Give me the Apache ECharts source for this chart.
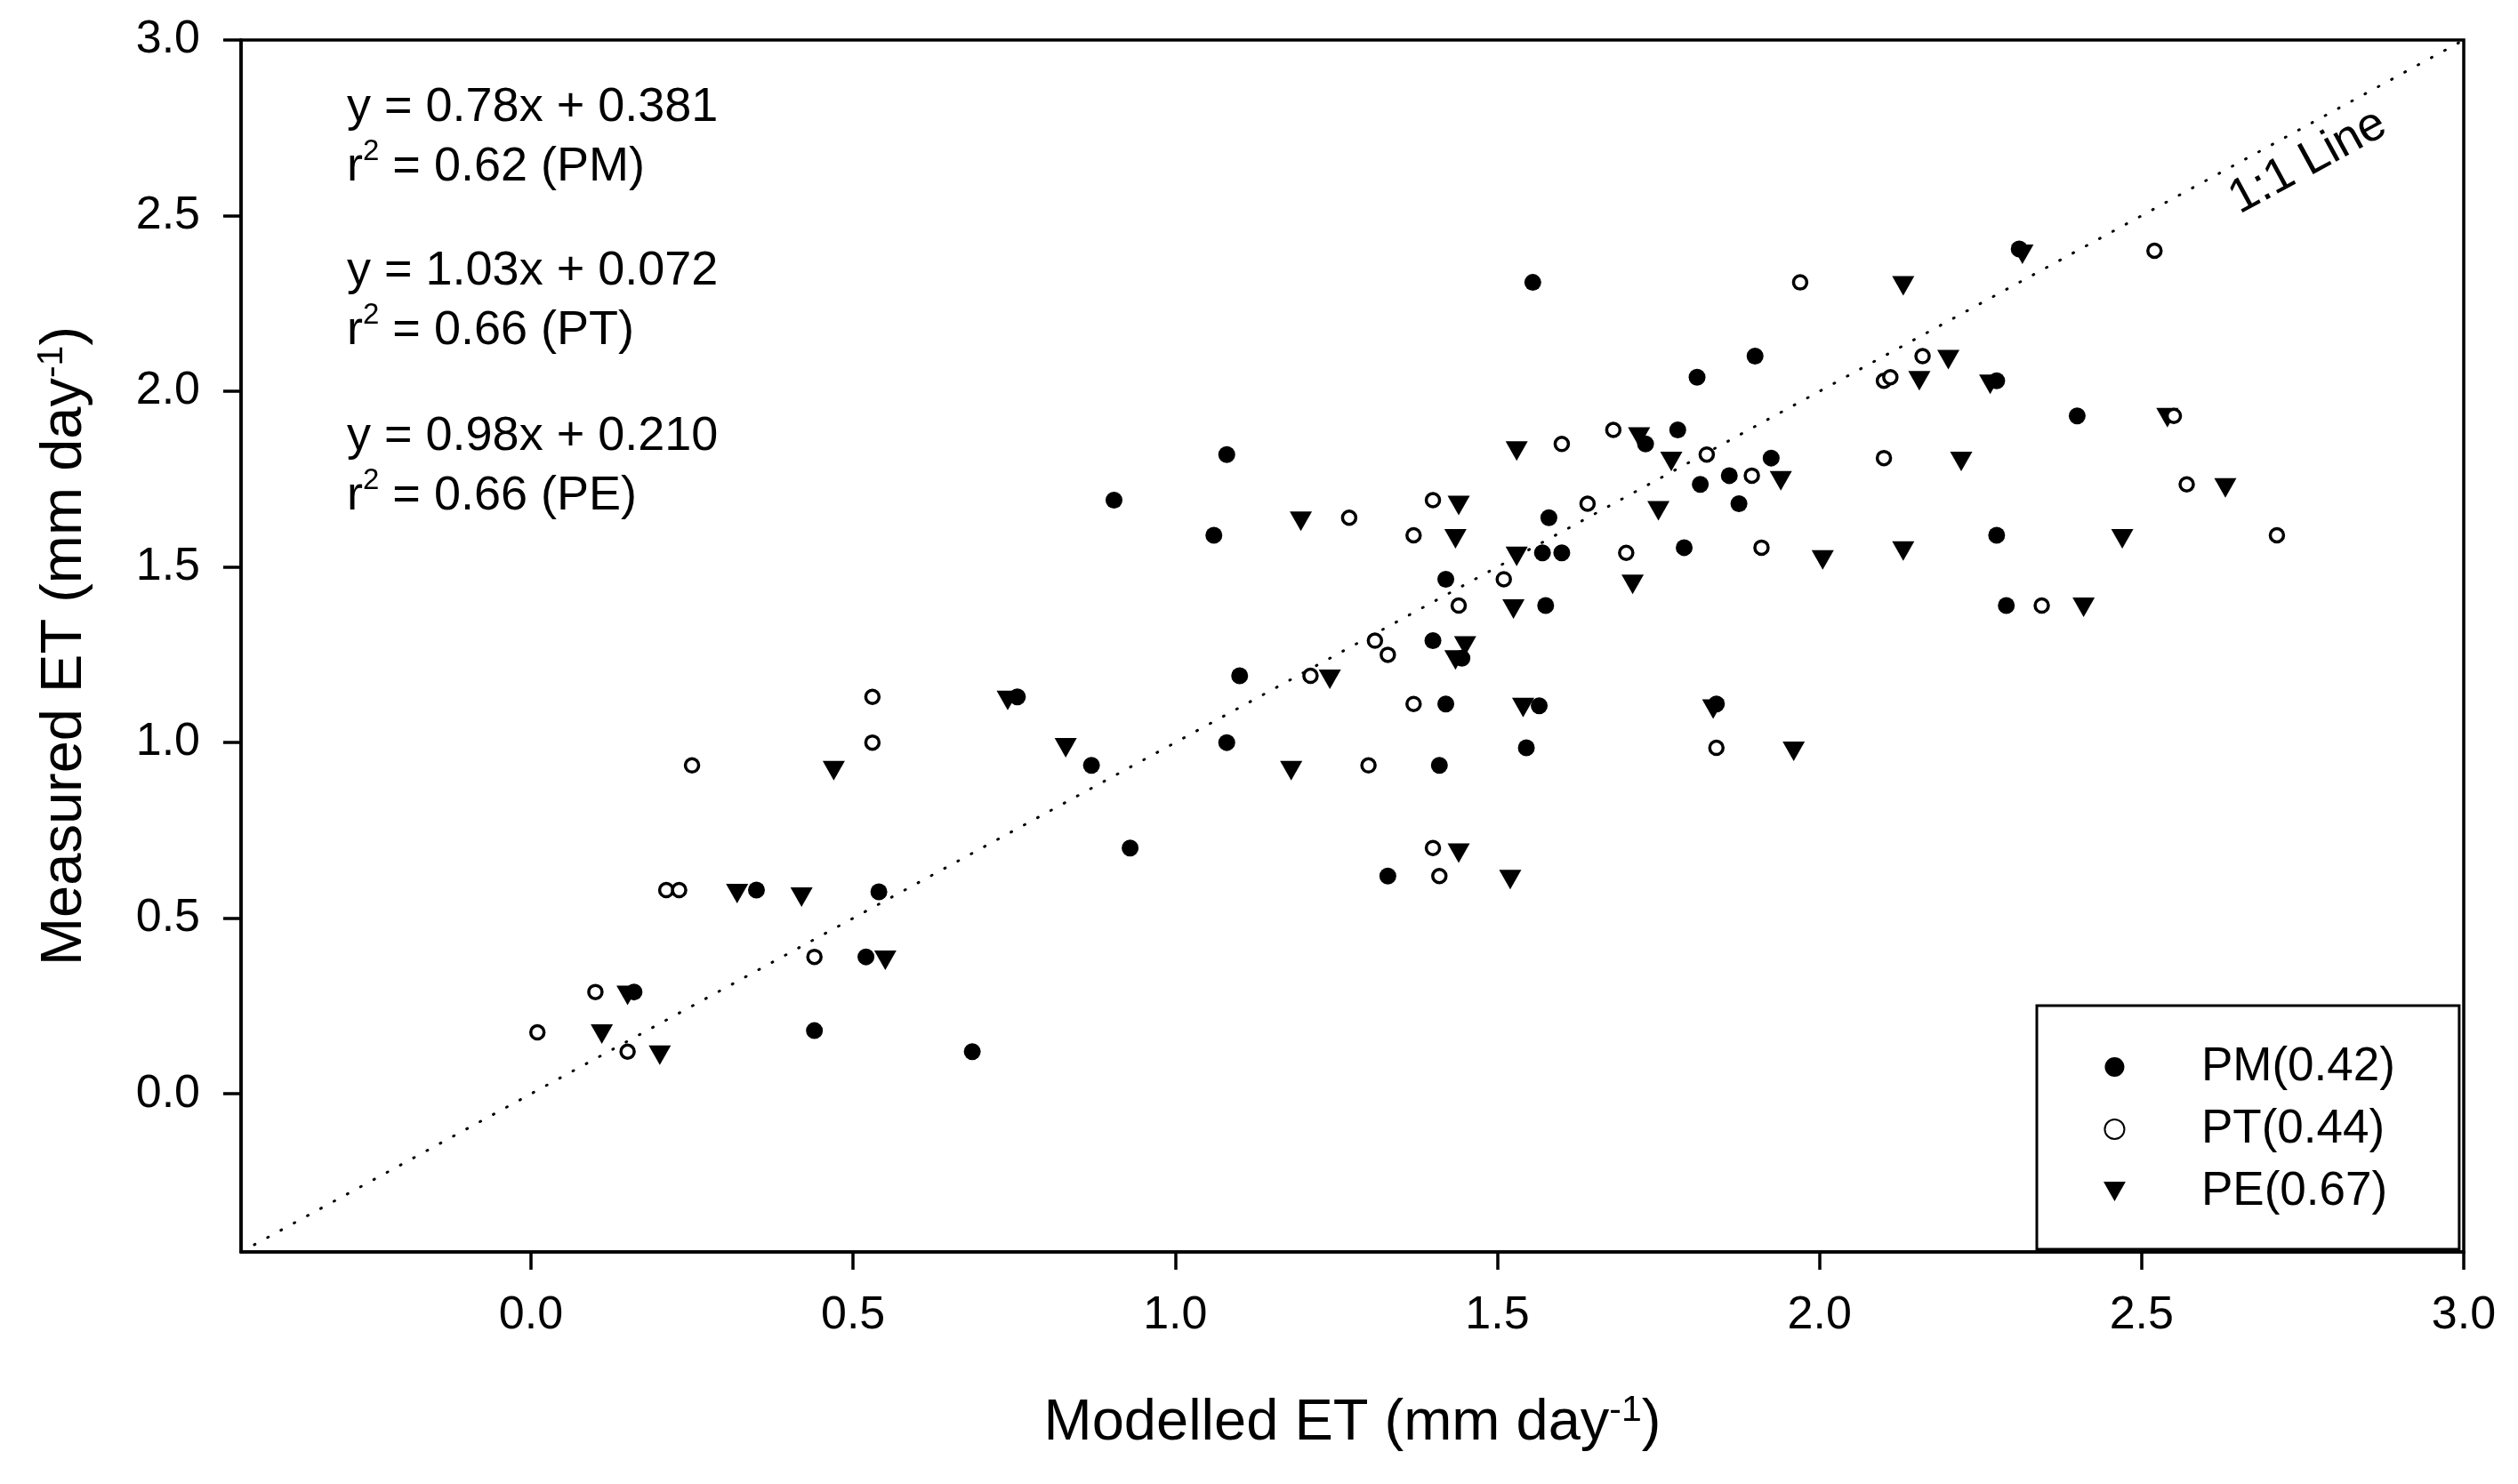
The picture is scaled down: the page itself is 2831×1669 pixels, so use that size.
<!DOCTYPE html>
<html>
<head>
<meta charset="utf-8">
<title>Measured vs modelled ET</title>
<script src="https://cdn.jsdelivr.net/npm/echarts@6/dist/echarts.min.js"></script>
<style>
  html, body { margin: 0; padding: 0; background: #fff; }
  #main { width: 2831px; height: 1669px; }
</style>
</head>
<body>
<div id="main"></div>
<script>
// values (mm day-1)
var pmX = [0.16, 0.35, 0.44, 0.52, 0.54, 0.685, 0.755, 0.87, 0.905, 0.93, 1.06, 1.08, 1.08, 1.10, 1.33, 1.40, 1.41, 1.42, 1.42, 1.445,
  1.545, 1.555, 1.565, 1.57, 1.575, 1.58, 1.60, 1.73, 1.78, 1.79, 1.81, 1.815, 1.84, 1.86, 1.875, 1.90, 1.925, 2.275, 2.275, 2.29, 2.31, 2.40];
var pmY = [0.29, 0.58, 0.18, 0.39, 0.575, 0.12, 1.13, 0.935, 1.69, 0.70, 1.59, 1.82, 1.00, 1.19, 0.62, 1.29, 0.935, 1.465, 1.11, 1.24,
  0.985, 2.31, 1.105, 1.54, 1.39, 1.64, 1.54, 1.85, 1.89, 1.555, 2.04, 1.735, 1.11, 1.76, 1.68, 2.10, 1.81, 2.03, 1.59, 1.39, 2.405, 1.93];

var ptX = [0.01, 0.10, 0.15, 0.21, 0.23, 0.25, 0.44, 0.53, 0.53, 1.21, 1.27, 1.30, 1.31, 1.33, 1.37, 1.37, 1.40, 1.40, 1.41, 1.44,
  1.51, 1.60, 1.64, 1.68, 1.70, 1.825, 1.84, 1.895, 1.91, 1.97, 2.10, 2.11, 2.10, 2.16, 2.345, 2.52, 2.55, 2.57, 2.71];
var ptY = [0.175, 0.29, 0.12, 0.58, 0.58, 0.935, 0.39, 1.13, 1.00, 1.19, 1.64, 0.935, 1.29, 1.25, 1.59, 1.11, 1.69, 0.70, 0.62, 1.39,
  1.465, 1.85, 1.68, 1.89, 1.54, 1.82, 0.985, 1.76, 1.555, 2.31, 2.03, 2.04, 1.81, 2.10, 1.39, 2.40, 1.93, 1.735, 1.59];

var peX = [0.11, 0.15, 0.20, 0.32, 0.42, 0.47, 0.55, 0.74, 0.83, 1.18, 1.195, 1.24, 1.435, 1.44, 1.435, 1.45, 1.44, 1.52, 1.525, 1.53, 1.53,
  1.54, 1.71, 1.72, 1.75, 1.77, 1.835, 1.94, 1.96, 2.005, 2.13, 2.13, 2.155, 2.20, 2.22, 2.265, 2.315, 2.41, 2.47, 2.54, 2.63];
var peY = [0.17, 0.28, 0.11, 0.57, 0.56, 0.92, 0.38, 1.12, 0.985, 0.92, 1.63, 1.18, 1.58, 1.675, 1.235, 1.275, 0.685, 0.61, 1.38, 1.53, 1.83,
  1.10, 1.45, 1.87, 1.66, 1.80, 1.095, 1.745, 0.975, 1.52, 2.30, 1.545, 2.03, 2.09, 1.80, 2.02, 2.39, 1.385, 1.58, 1.925, 1.725];

var tickValues = [0, 0.5, 1.0, 1.5, 2.0, 2.5, 3.0];
var axisMin = -0.45, axisMax = 3.0;
var seriesNames = ['PM(0.42)', 'PT(0.44)', 'PE(0.67)'];
var equations = [
  ['y = 0.78x + 0.381', ' = 0.62 (PM)'],
  ['y = 1.03x + 0.072', ' = 0.66 (PT)'],
  ['y = 0.98x + 0.210', ' = 0.66 (PE)']
];

function pairs(xs, ys) {
  var out = [];
  for (var i = 0; i < xs.length; i++) out.push([xs[i], ys[i]]);
  return out;
}

var FONT = "'Liberation Sans', Arial, sans-serif";
var myChart = echarts.init(document.getElementById('main'));

// equation block, one text per pair of lines
var eqTops = [94, 278, 464];
var graphics = equations.map(function(eq, i) {
  return {
    type: 'text',
    left: 390,
    top: eqTops[i],
    style: {
      text: '{n|' + eq[0] + '}\n{n|r}{s|2}{n|' + eq[1] + '}',
      fill: '#000',
      rich: {
        n: { fontFamily: FONT, fontSize: 54, lineHeight: 67, fill: '#000' },
        s: { fontFamily: FONT, fontSize: 33, lineHeight: 33, verticalAlign: 'top', fill: '#000' }
      }
    }
  };
});
graphics.push({
  type: 'text',
  x: 2595,
  y: 182,
  rotation: Math.atan2(395.4, 724.8),
  style: {
    text: '1:1 Line',
    fill: '#000',
    font: '54px ' + FONT,
    align: 'center',
    verticalAlign: 'middle'
  }
});

var axisCommon = {
  type: 'value',
  min: axisMin,
  max: axisMax,
  axisLine: { show: true, onZero: false, lineStyle: { color: '#000', width: 3.5 } },
  axisTick: { show: true, inside: false, length: 20, lineStyle: { color: '#000', width: 3.5 }, customValues: tickValues },
  axisLabel: {
    color: '#000', fontFamily: FONT, fontSize: 52, margin: 46,
    customValues: tickValues,
    formatter: function(v) { return v.toFixed(1); }
  },
  splitLine: { show: false }
};

var titleRich = {
  a: { fontFamily: FONT, fontSize: 65, lineHeight: 70, color: '#000' },
  s: { fontFamily: FONT, fontSize: 41, lineHeight: 41, verticalAlign: 'top', color: '#000' }
};

var option = {
  animation: false,
  backgroundColor: '#fff',
  grid: {
    left: 271, right: 61, top: 45, bottom: 261,
    show: true, borderColor: '#000', borderWidth: 3.5, backgroundColor: 'transparent'
  },
  xAxis: Object.assign({}, axisCommon, {
    name: '{a|Modelled ET (mm day}{s|-1}{a|)}',
    nameLocation: 'middle',
    nameGap: 158,
    nameTextStyle: { rich: titleRich }
  }),
  yAxis: Object.assign({}, axisCommon, {
    name: '{a|Measured ET (mm day}{s|-1}{a|)}',
    nameLocation: 'middle',
    nameRotate: 90,
    nameGap: 163,
    nameTextStyle: { rich: titleRich }
  }),
  legend: {
    data: [
      { name: seriesNames[0], icon: 'circle' },
      { name: seriesNames[1], icon: 'circle' },
      { name: seriesNames[2], icon: 'path://M0,0L26,0L13,23Z' }
    ],
    orient: 'vertical',
    left: 2290,
    top: 1131,
    padding: [39, 72, 35, 75],
    itemGap: 10,
    itemWidth: 25,
    itemHeight: 22,
    backgroundColor: '#fff',
    borderColor: '#000',
    borderWidth: 3,
    borderRadius: 0,
    textStyle: { color: '#000', fontFamily: FONT, fontSize: 53, lineHeight: 60, padding: [0, 0, 0, 80] }
  },
  graphic: graphics,
  series: [
    {
      name: '1:1',
      type: 'line',
      data: [[axisMin, axisMin], [axisMax, axisMax]],
      symbol: 'none',
      silent: true,
      lineStyle: { color: '#000', width: 3, type: [1, 16], cap: 'round' },
      z: 1
    },
    {
      name: seriesNames[2],
      type: 'scatter',
      data: pairs(peX, peY),
      symbol: 'triangle',
      symbolRotate: 180,
      symbolSize: [25, 22],
      itemStyle: { color: '#000', borderWidth: 0, opacity: 1 },
      emphasis: { disabled: true },
      z: 2
    },
    {
      name: seriesNames[1],
      type: 'scatter',
      data: pairs(ptX, ptY),
      symbol: 'circle',
      symbolSize: 15,
      itemStyle: { color: '#fff', borderColor: '#000', borderWidth: 3.5, opacity: 1 },
      emphasis: { disabled: true },
      z: 3
    },
    {
      name: seriesNames[0],
      type: 'scatter',
      data: pairs(pmX, pmY),
      symbol: 'circle',
      symbolSize: 19,
      itemStyle: { color: '#000', borderWidth: 0, opacity: 1 },
      emphasis: { disabled: true },
      z: 4
    }
  ]
};
myChart.setOption(option);
</script>
</body>
</html>
